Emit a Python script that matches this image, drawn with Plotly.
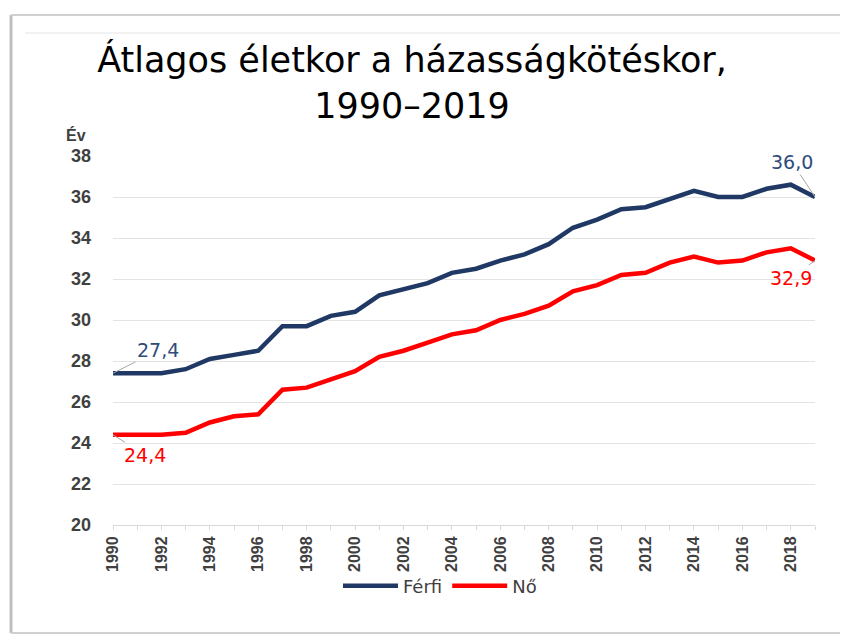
import plotly.graph_objects as go

years = list(range(1990, 2020))
ferfi = [27.4, 27.4, 27.4, 27.6, 28.1, 28.3, 28.5, 29.7, 29.7, 30.2,
         30.4, 31.2, 31.5, 31.8, 32.3, 32.5, 32.9, 33.2, 33.7, 34.5,
         34.9, 35.4, 35.5, 35.9, 36.3, 36.0, 36.0, 36.4, 36.6, 36.0]
no = [24.4, 24.4, 24.4, 24.5, 25.0, 25.3, 25.4, 26.6, 26.7, 27.1,
      27.5, 28.2, 28.5, 28.9, 29.3, 29.5, 30.0, 30.3, 30.7, 31.4,
      31.7, 32.2, 32.3, 32.8, 33.1, 32.8, 32.9, 33.3, 33.5, 32.9]
tick_years = years
tick_labels = [str(y) if (y - 1990) % 2 == 0 else "" for y in years]
y_ticks = [20, 22, 24, 26, 28, 30, 32, 34, 36, 38]

# page is 848x635; the html body adds an 8px margin
OFF = 8
W, H = 848 - OFF, 635 - OFF
L, R, T, B = 113, 815, 156, 525   # plot area in page pixels

def px(x):
    return (x - L) / (R - L)

def py(y):
    return (B - y) / (B - T)

NAVY = "#1f3864"
LABNAVY = "#2f4b7c"
RED = "#ff0000"
FONT = "Liberation Sans, Arial, sans-serif"
TFONT = "DejaVu Sans, Liberation Sans, Arial, sans-serif"

fig = go.Figure()
fig.add_trace(go.Scatter(x=years, y=ferfi, mode="lines", name="Férfi",
                         line=dict(color=NAVY, width=4.5)))
fig.add_trace(go.Scatter(x=years, y=no, mode="lines", name="Nő",
                         line=dict(color=RED, width=4.5)))

def label(x, y, text, color, ax, ay):
    fig.add_annotation(x=x, y=y, xref="x", yref="y", text=text,
                       showarrow=True, arrowhead=0, arrowwidth=1,
                       arrowcolor="#a6a6a6", ax=ax, ay=ay,
                       font=dict(family=TFONT, size=19, color=color))

label(years[0], ferfi[0], "27,4", LABNAVY, 45, -23)
label(years[0], no[0], "24,4", RED, 32, 20)
label(years[-1], ferfi[-1], "36,0", LABNAVY, -23, -35)
label(years[-1], no[-1], "32,9", RED, -24, 17)

fig.add_annotation(x=px(76), y=py(135), xref="paper", yref="paper",
                   xanchor="center", yanchor="middle",
                   text="<b>Év</b>", showarrow=False,
                   font=dict(family=FONT, size=16, color="#404040"))

# frame of the chart area (screenshot border): left, top, bottom edges
frame = dict(color="#bfbfbf", width=3)
fig.add_shape(type="line", xref="paper", yref="paper",
              x0=px(11), x1=px(11), y0=py(633), y1=py(15), line=frame)
fig.add_shape(type="line", xref="paper", yref="paper",
              x0=px(11), x1=px(848), y0=py(15), y1=py(15),
              line=dict(color="#d0d0d0", width=2))
fig.add_shape(type="line", xref="paper", yref="paper",
              x0=px(11), x1=px(848), y0=py(633), y1=py(633),
              line=dict(color="#d0d0d0", width=2))
fig.add_shape(type="line", xref="paper", yref="paper",
              x0=px(25), x1=px(848), y0=py(33), y1=py(33),
              line=dict(color="#f2f2f2", width=2), layer="below")

fig.update_layout(
    width=W, height=H,
    margin=dict(l=L - OFF, r=W + OFF - R, t=T - OFF, b=H + OFF - B, pad=0),
    paper_bgcolor="white", plot_bgcolor="white",
    font=dict(family=FONT, color="#404040"),
    title=dict(text="Átlagos életkor a házasságkötéskor,<br>1990–2019",
               x=px(412), xref="paper", xanchor="center",
               y=1 - (72 - OFF) / H, yanchor="middle",
               font=dict(family=TFONT, size=35, color="#000000")),
    showlegend=True,
    legend=dict(orientation="h", x=px(440), xanchor="center",
                y=py(586), yanchor="middle", yref="paper",
                bgcolor="rgba(0,0,0,0)",
                font=dict(family=TFONT, size=18, color="#404040"),
                itemwidth=55, tracegroupgap=0),
    xaxis=dict(range=[1990, 2019], tickmode="array", tickvals=tick_years,
               ticktext=tick_labels, tickangle=-90, showgrid=False,
               ticks="outside", ticklen=4, tickcolor="#d9d9d9",
               showline=True, linecolor="#d9d9d9", linewidth=1,
               tickfont=dict(family=FONT, size=16, color="#404040",
                             weight="bold"),
               zeroline=False, fixedrange=True),
    yaxis=dict(range=[20, 38], tickmode="array", tickvals=y_ticks,
               showgrid=True, gridcolor="#e3e3e3", gridwidth=1,
               showline=False, zeroline=False, ticks="",
               ticklabelstandoff=21,
               tickfont=dict(family=FONT, size=18, color="#404040",
                             weight="bold"),
               fixedrange=True),
)

fig.write_html("out.html")
